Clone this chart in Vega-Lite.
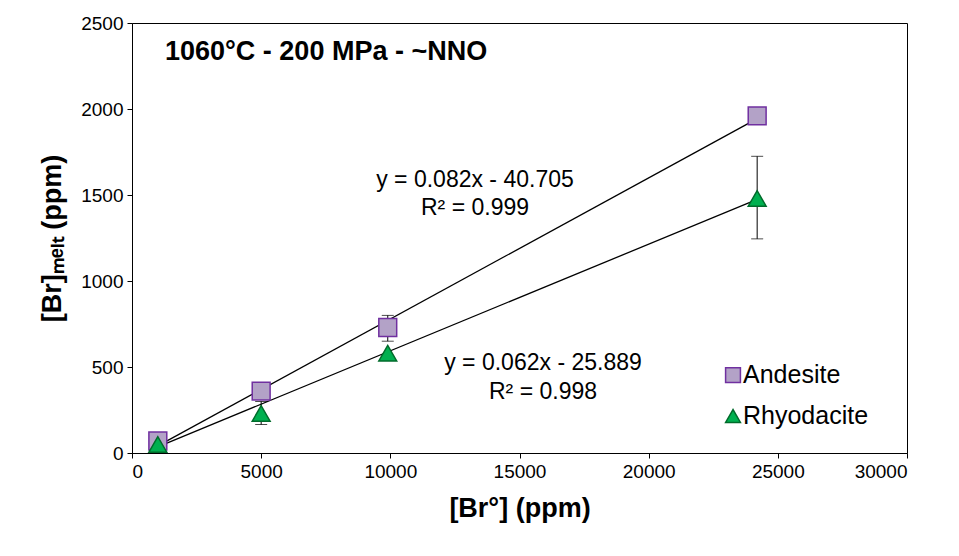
{
  "$schema": "https://vega.github.io/schema/vega-lite/v6.json",
  "autosize": "none",
  "width": 775,
  "height": 430,
  "padding": {"left": 132, "top": 23, "right": 52, "bottom": 103},
  "background": "white",
  "config": {
    "font": "Liberation Sans",
    "view": {"stroke": "black", "strokeWidth": 1},
    "axis": {"grid": false, "domainColor": "black", "tickColor": "black"}
  },
  "datasets": {
    "pts": [
      {"series": "Andesite", "x": 1000, "y": 70},
      {"series": "Andesite", "x": 5000, "y": 360},
      {"series": "Andesite", "x": 9900, "y": 730},
      {"series": "Andesite", "x": 24200, "y": 1960},
      {"series": "Rhyodacite", "x": 1000, "y": 50},
      {"series": "Rhyodacite", "x": 5000, "y": 230},
      {"series": "Rhyodacite", "x": 9900, "y": 580},
      {"series": "Rhyodacite", "x": 24200, "y": 1480}
    ],
    "err": [
      {"x": 9900, "lo": 650, "hi": 800},
      {"x": 5000, "lo": 165, "hi": 300},
      {"x": 24200, "lo": 1245, "hi": 1725}
    ],
    "fit": [
      {"series": "Andesite", "x": 1000, "y": 41.3},
      {"series": "Andesite", "x": 24200, "y": 1943.7},
      {"series": "Rhyodacite", "x": 1000, "y": 36.1},
      {"series": "Rhyodacite", "x": 24200, "y": 1474.5}
    ],
    "labels": [
      {"x": 13277, "y": 1587, "t": "y = 0.082x - 40.705"},
      {"x": 13277, "y": 1424, "t": "R² = 0.999"},
      {"x": 15910, "y": 523, "t": "y = 0.062x - 25.889"},
      {"x": 15910, "y": 355, "t": "R² = 0.998"}
    ],
    "legend": [
      {"series": "Andesite", "x": 23265, "y": 453},
      {"series": "Rhyodacite", "x": 23265, "y": 215}
    ]
  },
  "encoding": {
    "x": {"field": "x", "type": "quantitative", "scale": {"domain": [0, 30000]}, "axis": {"title": "[Br°] (ppm)", "format": "d", "tickCount": 6, "labelFontSize": 19, "labelColor": "black", "titleFontSize": 27, "titleFontWeight": "bold", "titleColor": "black", "titlePadding": 14, "labelPadding": 4}},
    "y": {"field": "y", "type": "quantitative", "scale": {"domain": [0, 2500]}, "axis": {"title": "[Br]ₘₑₗₜ  (ppm)", "format": "d", "tickCount": 5, "labelFontSize": 19, "labelColor": "black", "titleFontSize": 27, "titleFontWeight": "bold", "titleColor": "black", "titlePadding": 14, "labelPadding": 4}}
  },
  "layer": [
    {
      "data": {"name": "fit"},
      "mark": {"type": "line", "color": "black", "strokeWidth": 1.3},
      "encoding": {"detail": {"field": "series"}}
    },
    {
      "data": {"name": "err"},
      "mark": {"type": "rule", "color": "black"},
      "encoding": {"y": {"field": "lo", "type": "quantitative"}, "y2": {"field": "hi"}}
    },
    {
      "data": {"name": "err"},
      "mark": {"type": "tick", "color": "black", "orient": "horizontal", "size": 12, "thickness": 1},
      "encoding": {"y": {"field": "hi", "type": "quantitative"}}
    },
    {
      "data": {"name": "err"},
      "mark": {"type": "tick", "color": "black", "orient": "horizontal", "size": 12, "thickness": 1},
      "encoding": {"y": {"field": "lo", "type": "quantitative"}}
    },
    {
      "data": {"name": "pts"},
      "mark": {"type": "point", "filled": true, "strokeWidth": 1.5, "opacity": 1, "size": 320},
      "encoding": {
        "shape": {"field": "series", "scale": {"domain": ["Andesite", "Rhyodacite"], "range": ["square", "triangle-up"]}, "legend": null},
        "fill": {"field": "series", "scale": {"domain": ["Andesite", "Rhyodacite"], "range": ["#b3a2c7", "#00b050"]}, "legend": null},
        "stroke": {"field": "series", "scale": {"domain": ["Andesite", "Rhyodacite"], "range": ["#7030a0", "#006b2b"]}, "legend": null}
      }
    },
    {
      "data": {"name": "legend"},
      "mark": {"type": "point", "filled": true, "strokeWidth": 1.5, "opacity": 1, "size": 220},
      "encoding": {
        "shape": {"field": "series", "legend": null},
        "fill": {"field": "series", "legend": null},
        "stroke": {"field": "series", "legend": null}
      }
    },
    {
      "data": {"name": "legend"},
      "mark": {"type": "text", "align": "left", "dx": 10, "fontSize": 25, "color": "black"},
      "encoding": {"text": {"field": "series"}}
    },
    {
      "data": {"name": "labels"},
      "mark": {"type": "text", "align": "center", "fontSize": 23, "color": "black"},
      "encoding": {"text": {"field": "t"}}
    },
    {
      "data": {"values": [{"x": 1277, "y": 2331, "t": "1060°C - 200 MPa - ~NNO"}]},
      "mark": {"type": "text", "align": "left", "fontSize": 27, "fontWeight": "bold", "color": "black"},
      "encoding": {"text": {"field": "t"}}
    }
  ]
}
